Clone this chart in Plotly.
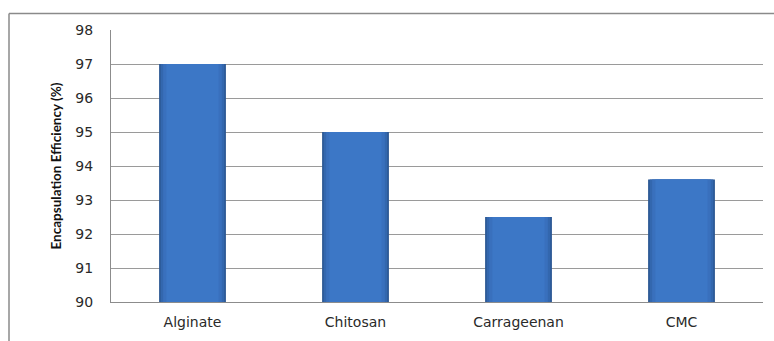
import plotly.graph_objects as go

categories = ["Alginate", "Chitosan", "Carrageenan", "CMC"]
values = [97.0, 95.0, 92.5, 93.6]
y_ticks = [90, 91, 92, 93, 94, 95, 96, 97, 98]

W, H = 774, 341
L, R, T, B = 111, 11, 30, 30
pw, ph = W - L - R, H - T - B

fig = go.Figure()
# layered bars give the bevelled look of the original
for w, c in [(0.41, "#2c5894"), (0.39, "#3367ae"), (0.36, "#3970bd"), (0.32, "#3c77c6")]:
    fig.add_trace(go.Bar(
        x=categories, y=values,
        marker=dict(color=c, line=dict(width=0)),
        width=w, hoverinfo="y",
    ))

fig.update_layout(
    width=W, height=H,
    barmode="overlay",
    margin=dict(l=L, r=R, t=T, b=B),
    paper_bgcolor="white", plot_bgcolor="white",
    showlegend=False,
    font=dict(family="DejaVu Sans, sans-serif", size=14, color="#2a2a2a"),
    xaxis=dict(
        showline=True, linecolor="#8c8c8c", linewidth=1,
        ticks="outside", ticklen=7, tickcolor="rgba(0,0,0,0)",
        tickfont=dict(size=14, color="#2a2a2a"),
    ),
    yaxis=dict(
        range=[90, 98], tickvals=y_ticks,
        showgrid=True, gridcolor="#9a9a9a", gridwidth=1,
        showline=True, linecolor="#8c8c8c", linewidth=1,
        zeroline=False,
        ticks="outside", ticklen=14, tickcolor="rgba(0,0,0,0)",
        tickfont=dict(size=14, color="#2a2a2a"),
        title=dict(text="Encapsulation Efficiency (%)",
                   font=dict(family="Lato, sans-serif",
                             size=13.5, color="#111", weight="bold"),
                   standoff=10),
    ),
    shapes=[
        dict(type="line", xref="paper", yref="paper",
             x0=(9 - L) / pw, x1=(9 - L) / pw,
             y0=-0.3, y1=1 + (T - 13) / ph,
             line=dict(color="#8a8a8a", width=1.5)),
        dict(type="line", xref="paper", yref="paper",
             x0=(9 - L) / pw, x1=1.1,
             y0=1 + (T - 13) / ph, y1=1 + (T - 13) / ph,
             line=dict(color="#8a8a8a", width=1.5)),
    ],
)

fig.write_html("out.html")
